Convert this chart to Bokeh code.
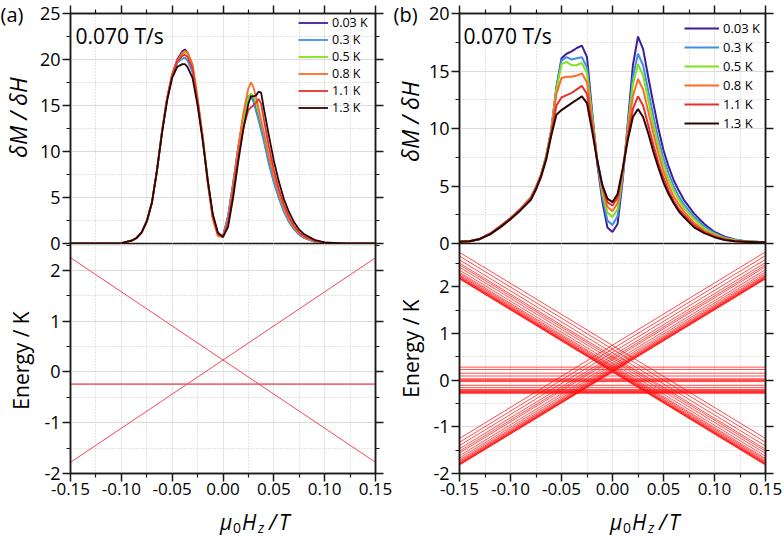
from math import pi
from bokeh.plotting import figure
from bokeh.models import (Range1d, LinearAxis, SingleIntervalTicker, FixedTicker, NumeralTickFormatter,
                          CustomJSTickFormatter, Grid, Label, Legend, LegendItem)
from bokeh.layouts import row, column
from bokeh.embed import file_html
from bokeh.resources import INLINE

FONT = "Open Sans"

# ---------------- data ----------------
temps = ["0.03 K", "0.3 K", "0.5 K", "0.8 K", "1.1 K", "1.3 K"]
colors = ["#3f1d9b", "#3f8fea", "#7fe21c", "#ff6b24", "#e8302c", "#2b0606"]
sweep_label = "0.070 T/s"
x_major_ticks = [-0.15, -0.10, -0.05, 0.0, 0.05, 0.10, 0.15]
x_minor_ticks = [-0.125, -0.075, -0.025, 0.025, 0.075, 0.125]

# panel (a) dM/dH
field_a = [-0.15, -0.12, -0.10, -0.09, -0.085, -0.08, -0.075, -0.07, -0.065, -0.06,
           -0.055, -0.05, -0.045, -0.04, -0.0375, -0.035, -0.03, -0.025, -0.02, -0.015,
           -0.01, -0.005, 0.0, 0.005, 0.01, 0.015, 0.02, 0.025, 0.0275, 0.03,
           0.0325, 0.035, 0.0375, 0.04, 0.045, 0.05, 0.055, 0.06, 0.065, 0.07,
           0.075, 0.08, 0.09, 0.10, 0.12, 0.15]
a_003 = [0.0, 0.0, 0.05, 0.3, 0.6, 1.2, 2.4, 4.4, 7.9, 12.2,
         15.8, 18.4, 20.0, 20.9, 21.1, 20.8, 19.3, 15.5, 11.6, 6.8,
         2.8, 1.0, 0.8, 3.0, 6.6, 10.5, 13.8, 16.0, 16.1, 15.5,
         14.6, 13.6, 12.5, 11.4, 8.9, 6.8, 5.0, 3.5, 2.4, 1.6,
         1.0, 0.6, 0.2, 0.06, 0.0, 0.0]
a_03 = [0.0, 0.0, 0.05, 0.3, 0.6, 1.2, 2.4, 4.4, 7.9, 12.1,
        15.6, 18.1, 19.6, 20.1, 20.2, 19.9, 18.6, 15.2, 11.5, 6.8,
        2.8, 1.0, 0.8, 3.0, 6.6, 10.4, 13.7, 15.9, 16.0, 15.4,
        14.4, 13.4, 12.3, 11.2, 8.7, 6.6, 4.9, 3.4, 2.3, 1.5,
        0.95, 0.6, 0.2, 0.06, 0.0, 0.0]
a_05 = [0.0, 0.0, 0.05, 0.3, 0.6, 1.2, 2.4, 4.4, 7.9, 12.2,
        15.8, 18.3, 19.7, 20.5, 20.7, 20.6, 19.4, 15.8, 11.8, 7.0,
        2.9, 1.0, 0.7, 2.4, 5.8, 9.8, 13.3, 15.9, 16.3, 16.0,
        15.2, 14.2, 13.1, 12.0, 9.5, 7.3, 5.4, 3.8, 2.6, 1.7,
        1.1, 0.7, 0.25, 0.07, 0.0, 0.0]
a_08 = [0.0, 0.0, 0.05, 0.3, 0.6, 1.2, 2.4, 4.4, 7.9, 12.2,
        15.8, 18.4, 19.9, 20.7, 20.9, 20.8, 19.5, 15.8, 11.5, 6.5,
        2.6, 0.8, 0.7, 2.6, 6.3, 10.4, 14.2, 16.9, 17.5, 17.0,
        15.9, 14.7, 13.4, 12.2, 9.6, 7.3, 5.4, 3.8, 2.6, 1.7,
        1.1, 0.7, 0.25, 0.07, 0.0, 0.0]
a_11 = [0.0, 0.0, 0.05, 0.3, 0.6, 1.2, 2.4, 4.4, 7.9, 12.1,
        15.7, 18.2, 19.8, 20.4, 20.5, 20.3, 19.0, 15.5, 11.4, 6.7,
        2.9, 1.0, 0.8, 2.2, 5.6, 9.4, 12.6, 14.5, 14.8, 15.0,
        15.3, 15.7, 15.2, 13.6, 10.6, 8.0, 5.9, 4.2, 2.9, 1.9,
        1.2, 0.8, 0.3, 0.08, 0.0, 0.0]
a_13 = [0.0, 0.0, 0.05, 0.3, 0.6, 1.2, 2.4, 4.4, 7.9, 12.0,
        15.5, 18.0, 19.2, 19.5, 19.5, 19.2, 18.0, 15.0, 11.2, 6.9,
        3.2, 1.2, 0.7, 1.8, 5.0, 8.9, 12.4, 15.2, 16.0, 16.0,
        16.1, 16.5, 16.4, 14.8, 11.8, 9.0, 6.7, 4.8, 3.4, 2.3,
        1.5, 1.0, 0.4, 0.12, 0.01, 0.0]

# panel (b) dM/dH
field_b = [-0.15, -0.14, -0.13, -0.12, -0.11, -0.10, -0.09, -0.08,
           -0.075, -0.07, -0.065, -0.06, -0.055, -0.05,
           -0.045, -0.04, -0.035, -0.03, -0.025, -0.02, -0.015, -0.01, -0.005, 0.0,
           0.005, 0.01, 0.015, 0.02, 0.025, 0.03, 0.035, 0.04, 0.045, 0.05,
           0.055, 0.06, 0.065, 0.07,
           0.08, 0.09, 0.10, 0.11, 0.12, 0.13, 0.14, 0.15]
b_003 = [0.15, 0.2, 0.4, 0.85, 1.5, 2.2, 3.0, 4.0,
         4.9, 6.0, 7.6, 9.9, 13.6, 16.1,
         16.5, 16.7, 17.0, 17.2, 16.2, 11.5, 7.0, 3.7, 1.4, 1.0,
         1.7, 5.5, 10.5, 15.5, 18.0, 16.9, 14.5, 12.2, 10.0, 8.1,
         6.7, 5.5, 4.6, 3.8,
         2.6, 1.7, 1.0, 0.6, 0.35, 0.2, 0.15, 0.1]
b_03 = [0.15, 0.2, 0.4, 0.85, 1.5, 2.2, 3.0, 4.0,
        4.9, 6.0, 7.6, 9.9, 13.5, 15.9,
        16.2, 16.0, 16.1, 16.2, 15.3, 11.3, 7.2, 4.1, 2.0, 1.6,
        2.4, 5.8, 10.2, 14.5, 16.5, 15.5, 13.3, 11.1, 9.1, 7.4,
        6.1, 5.0, 4.1, 3.4,
        2.3, 1.5, 0.9, 0.5, 0.3, 0.2, 0.15, 0.1]
b_05 = [0.15, 0.2, 0.4, 0.85, 1.5, 2.2, 3.0, 4.0,
        4.9, 6.0, 7.6, 9.9, 13.4, 15.6,
        15.8, 15.5, 15.5, 15.7, 14.8, 11.0, 7.3, 4.5, 2.7, 2.3,
        3.0, 6.0, 10.0, 13.8, 15.6, 14.6, 12.5, 10.4, 8.5, 6.9,
        5.6, 4.6, 3.8, 3.1,
        2.1, 1.3, 0.8, 0.45, 0.3, 0.2, 0.15, 0.1]
b_08 = [0.15, 0.2, 0.4, 0.85, 1.5, 2.2, 3.0, 4.0,
        4.9, 6.0, 7.5, 9.7, 13.0, 14.4,
        14.5, 14.5, 14.6, 14.8, 14.0, 10.6, 7.3, 4.8, 3.2, 2.8,
        3.5, 6.2, 9.7, 12.8, 14.3, 13.4, 11.5, 9.6, 7.8, 6.3,
        5.1, 4.1, 3.4, 2.8,
        1.8, 1.1, 0.7, 0.4, 0.25, 0.18, 0.12, 0.1]
b_11 = [0.15, 0.2, 0.4, 0.85, 1.5, 2.2, 3.0, 3.9,
        4.8, 5.9, 7.4, 9.6, 12.0, 12.7,
        12.9, 13.1, 13.4, 13.7, 13.0, 10.2, 7.3, 5.0, 3.6, 3.3,
        4.0, 6.4, 9.3, 11.7, 12.8, 12.0, 10.3, 8.6, 7.0, 5.7,
        4.6, 3.7, 3.0, 2.5,
        1.6, 1.0, 0.6, 0.35, 0.2, 0.15, 0.1, 0.1]
b_13 = [0.15, 0.2, 0.4, 0.8, 1.4, 2.1, 2.9, 3.8,
        4.7, 5.8, 7.3, 9.4, 11.2, 11.6,
        11.9, 12.2, 12.5, 12.8, 12.2, 9.8, 7.2, 5.1, 3.9, 3.6,
        4.3, 6.5, 9.0, 11.0, 11.7, 11.0, 9.6, 8.0, 6.6, 5.3,
        4.3, 3.5, 2.8, 2.3,
        1.4, 0.9, 0.55, 0.3, 0.2, 0.15, 0.1, 0.1]

# energy levels: values at the two field ends
field_ends = [-0.15, 0.15]
ea_down = [2.25, -1.78]
ea_up = [-1.78, 2.25]
ea_flat = [-0.24, -0.24]

eb_down_left = [2.74, 2.66, 2.58, 2.51, 2.47, 2.42, 2.36, 2.31, 2.28, 2.25, 2.23, 2.21, 2.20, 2.19, 2.18, 2.17]
eb_down_right = [-1.25, -1.33, -1.41, -1.48, -1.52, -1.57, -1.63, -1.68, -1.71, -1.74, -1.76, -1.78, -1.79, -1.80, -1.81, -1.82]
eb_up_left = [-1.25, -1.33, -1.40, -1.47, -1.52, -1.56, -1.62, -1.67, -1.71, -1.74, -1.76, -1.78, -1.79, -1.80, -1.81, -1.82]
eb_up_right = [2.75, 2.67, 2.59, 2.52, 2.47, 2.43, 2.37, 2.32, 2.28, 2.25, 2.23, 2.21, 2.20, 2.19, 2.18, 2.17]
eb_flat = [0.28, 0.23, 0.15, 0.09, 0.03, 0.01, -0.01, -0.03, -0.11, -0.16, -0.20, -0.22, -0.24, -0.25, -0.26, -0.27, -0.28]

# ---------------- layout geometry (page pixels) ----------------
FRAME_W = 307
FRAME_H = 230
TOP_B = 13          # above the upper frames
GAP = 13            # room under upper frame for its "0" label (overlapped by the lower figure)
BOT_B = 33          # room for x tick labels
TOTAL_H = 537
XLAB_H = TOTAL_H - (TOP_B + FRAME_H + GAP) - (FRAME_H + BOT_B - GAP)
STRIP_A = 36
A_L, A_R = 32, 18
STRIP_B = 32
B_L, B_R = 33, 19


def axis(ticker, labels=True, fmt=None, size="18px", standoff=2):
    kw = dict(ticker=ticker, major_tick_out=8, major_tick_in=0, minor_tick_out=4, minor_tick_in=0,
              axis_line_width=1.5, major_tick_line_width=1.5, minor_tick_line_width=1.2,
              axis_line_color="#1a1a1a", major_tick_line_color="#1a1a1a", minor_tick_line_color="#1a1a1a")
    if labels:
        kw.update(formatter=fmt, major_label_text_font=FONT, major_label_text_font_size=size,
                  major_label_text_color="black", major_label_standoff=standoff)
    else:
        kw.update(formatter=CustomJSTickFormatter(code="return ''"),
                  major_label_text_font_size="0px", major_label_standoff=0)
    return LinearAxis(**kw)


def xticker():
    return FixedTicker(ticks=x_major_ticks, minor_ticks=x_minor_ticks)


def make_fig(left, right, top, bottom, y0, y1, yint, is_top):
    p = figure(width=FRAME_W + left + right, height=FRAME_H + top + bottom,
               x_range=Range1d(-0.15, 0.15), y_range=Range1d(y0, y1),
               x_axis_location=None, y_axis_location=None, toolbar_location=None,
               output_backend="svg", min_border_left=left, min_border_right=right,
               min_border_top=top, min_border_bottom=bottom)
    p.outline_line_color = "#1a1a1a"
    p.outline_line_width = 1.5
    p.outline_line_alpha = 1.0
    p.background_fill_color = "white"
    p.border_fill_color = "white"
    yt = SingleIntervalTicker(interval=yint, num_minor_ticks=2)
    p.add_layout(Grid(dimension=0, ticker=xticker(), grid_line_color=None,
                      minor_grid_line_color="#c8c8c8", minor_grid_line_dash="1 2", minor_grid_line_width=1))
    p.add_layout(Grid(dimension=1, ticker=yt, grid_line_color=None,
                      minor_grid_line_color="#c8c8c8", minor_grid_line_dash="1 2", minor_grid_line_width=1))
    p.add_layout(axis(yt, True, NumeralTickFormatter(format="0")), "left")
    p.add_layout(axis(SingleIntervalTicker(interval=yint, num_minor_ticks=2), False), "right")
    if is_top:
        p.add_layout(axis(xticker(), False), "above")
    else:
        p.add_layout(axis(xticker(), True, NumeralTickFormatter(format="0.00"), "17px", 1), "below")
        p.border_fill_alpha = 0.0
        p.margin = (-GAP, 0, 0, 0)
    return p


def strip(w, h):
    s = figure(width=w, height=h, x_range=Range1d(0, 1), y_range=Range1d(0, 1),
               x_axis_location=None, y_axis_location=None, toolbar_location=None,
               output_backend="svg", min_border=0, min_border_left=0, min_border_right=0,
               min_border_top=0, min_border_bottom=0)
    s.outline_line_color = None
    s.background_fill_color = "white"
    s.border_fill_color = "white"
    s.xgrid.visible = False
    s.ygrid.visible = False
    return s


def lab(p, x, y, text, size, style="normal", align="left", baseline="middle", angle=0.0):
    p.add_layout(Label(x=x, y=y, x_units="screen", y_units="screen", text=text,
                       text_font=FONT, text_font_size=size, text_font_style=style,
                       text_align=align, text_baseline=baseline, text_color="black", angle=angle))


def xlabel_strip(width, cx):
    s = strip(width, XLAB_H)
    x0 = cx - 36
    ym = 16      # vertical middle of the main glyphs
    ys = 10      # vertical middle of the subscripts
    lab(s, x0, ym, "\u03bc", "21px", "italic")
    lab(s, x0 + 13, ys, "0", "14px", "normal")
    lab(s, x0 + 22, ym, "H", "21px", "italic")
    lab(s, x0 + 38, ys, "z", "14px", "italic")
    lab(s, x0 + 49, ym, "/", "21px", "italic")
    lab(s, x0 + 59, ym, "T", "21px", "italic")
    return s


def curves(p, xs, series, width, glyph_w, spacing, row_h, font_size, loc):
    items = []
    for name, col, ys in zip(temps, colors, series):
        r = p.line(xs, ys, line_color=col, line_width=width)
        items.append(LegendItem(label=name, renderers=[r]))
    leg = Legend(items=items, location=loc, padding=0, margin=0, spacing=spacing,
                 glyph_width=glyph_w, glyph_height=row_h, label_height=row_h, label_standoff=4,
                 label_text_font=FONT, label_text_font_size=font_size, label_text_color="black",
                 border_line_color=None, background_fill_alpha=0.0)
    p.add_layout(leg)


# ---- panel (a) ----
pa_t = make_fig(A_L, A_R, TOP_B, GAP, 0, 25, 5, True)
curves(pa_t, field_a, [a_003, a_03, a_05, a_08, a_11, a_13], 1.8, 30, 0, 17, "12.5px", (228, 127))
lab(pa_t, 5, 208, sweep_label, "21px")

pa_b = make_fig(A_L, A_R, 0, BOT_B, -2, 2.53, 1, False)
pa_b.line(field_ends, ea_down, line_color="#ee4a58", line_width=1)
pa_b.line(field_ends, ea_up, line_color="#ee4a58", line_width=1)
pa_b.line(field_ends, ea_flat, line_color="#ee4a58", line_width=1.6, line_alpha=0.8)

xa = xlabel_strip(FRAME_W + A_L + A_R, A_L + FRAME_W / 2)

sa = strip(STRIP_A, TOTAL_H)
lab(sa, 0, TOTAL_H - 14, "(a)", "20px")
lab(sa, 17, TOTAL_H - 117, "\u03b4M / \u03b4H", "23px", "italic", align="center", angle=pi / 2)
lab(sa, 20, TOTAL_H - 360, "Energy / K", "21px", align="center", angle=pi / 2)

# ---- panel (b) ----
pb_t = make_fig(B_L, B_R, TOP_B, GAP, 0, 20, 5, True)
curves(pb_t, field_b, [b_003, b_03, b_05, b_08, b_11, b_13], 2.0, 35, 1, 18, "13px", (225, 111))
lab(pb_t, 4, 208, sweep_label, "21px")

pb_b = make_fig(B_L, B_R, 0, BOT_B, -2, 2.93, 1, False)
pb_b.multi_line([field_ends] * len(eb_down_left),
                [[l, r] for l, r in zip(eb_down_left, eb_down_right)],
                line_color="#ff1010", line_alpha=0.75, line_width=1)
pb_b.multi_line([field_ends] * len(eb_up_left),
                [[l, r] for l, r in zip(eb_up_left, eb_up_right)],
                line_color="#ff1010", line_alpha=0.75, line_width=1)
pb_b.multi_line([field_ends] * len(eb_flat),
                [[v, v] for v in eb_flat],
                line_color="#ff1010", line_alpha=0.75, line_width=1)

xb = xlabel_strip(FRAME_W + B_L + B_R, B_L + FRAME_W / 2)

sb = strip(STRIP_B, TOTAL_H)
lab(sb, 0, TOTAL_H - 14, "(b)", "20px")
lab(sb, 16, TOTAL_H - 121, "\u03b4M / \u03b4H", "23px", "italic", align="center", angle=pi / 2)
lab(sb, 17, TOTAL_H - 348, "Energy / K", "21px", align="center", angle=pi / 2)

layout = row(sa, column(pa_t, pa_b, xa), sb, column(pb_t, pb_b, xb))

with open("out.html", "w") as f:
    f.write(file_html(layout, INLINE))
